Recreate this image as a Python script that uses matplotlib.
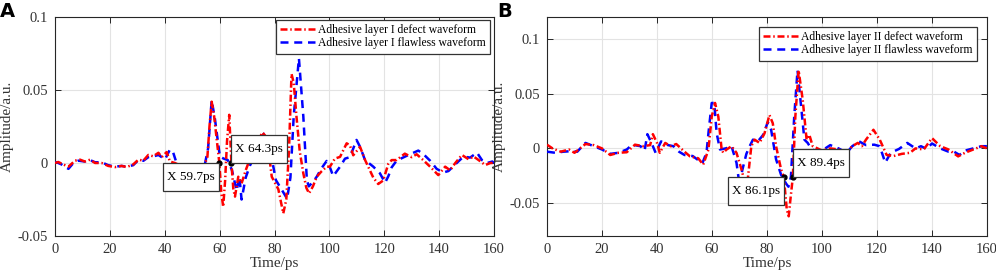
import matplotlib
matplotlib.use("Agg")
import matplotlib.pyplot as plt

# ---------------- Data ----------------
# Panel A - defect (red)
a_def_t = [0, 1.2, 3, 4.9, 7.3, 9.1, 10.9, 12.8, 14.6, 17,
           19.4, 21.9, 24.3, 26.1, 28.5, 30.4, 32.2, 34, 35.8, 37.7,
           38.9, 40.7, 41.9, 43.7, 46, 50, 54, 55.5, 56.3, 57.1,
           58, 59.9, 60.6, 61.3, 62, 62.7, 63.5, 64.3, 65.0, 65.6,
           66.8, 68.0, 69.5, 70.5, 72, 74, 75.5, 76.5, 78, 79,
           81.4, 83.2, 84.3, 85.3, 86.2, 87, 88, 89.2, 90.5, 91.6,
           92.6, 94, 95.4, 97, 99, 100.2, 102, 103.9, 106.3, 107.5,
           108.7, 111.2, 113, 116, 117.8, 119.6, 121.5, 122.7, 124.5, 127.5,
           130, 131.8, 134.2, 136.7, 139.7, 142.2, 144, 145.9, 148.3, 150.7,
           152.6, 154.4, 156.8, 158.7, 160]
a_def_v = [0, 0.0007, -0.001, -0.0025, 0.0016, 0.0023, 0.001, 0.0023, 0, 0,
           -0.002, -0.0028, -0.002, -0.0028, -0.001, 0.0023, 0.0016, 0.0055, 0.0046, 0.007,
           0.004, 0.0075, 0.001, 0, -0.002, -0.002, -0.002, 0.003, 0.025, 0.042,
           0.032, 0, -0.02, -0.030, -0.012, 0.015, 0.033, 0, -0.018, -0.023,
           -0.0094, -0.014, -0.005, 0.0, 0.006, 0.014, 0.021, 0.019, 0.006, -0.0094,
           -0.018, -0.0345, -0.025, 0.01, 0.061, 0.055, 0.032, 0.008, -0.007, -0.017,
           -0.0208, -0.016, -0.0094, -0.006, -0.0025, -0.0025, 0.003, 0.0042, 0.0135, 0.012,
           0.0053, 0.011, 0.0021, -0.01, -0.0144, -0.012, -0.0005, 0.002, 0.002, 0.0064,
           0.004, 0.006, 0.002, -0.0025, -0.0083, -0.0025, -0.005, 0.0, 0.0055, 0.0026,
           0.0044, 0.002, -0.0014, 0, 0]
# Panel A - flawless (blue)
a_fl_t = [0, 1.2, 2.4, 4.9, 6.7, 8.5, 10.9, 12.8, 14.6, 17,
          19.4, 21.9, 24.3, 26.1, 28.5, 30.4, 32.2, 34, 35.8, 37.7,
          40.1, 41.9, 43.1, 44.3, 47, 51, 54.5, 55.8, 57.1, 58.3,
          60.1, 61.5, 63, 64.5, 66.2, 67.2, 68.0, 69.5, 71, 73,
          74.5, 76.1, 77.5, 80.5, 83.5, 84.6, 85.8, 87.0, 88.9, 90.5,
          91.8, 92.5, 94, 95.4, 97, 99, 100.2, 101.4, 103.9, 105.7,
          107.5, 109.9, 111.2, 113, 116, 118.4, 120.3, 121.5, 122.7, 124.5,
          128.8, 132.4, 134.2, 136.7, 139.1, 141.5, 143.4, 145.9, 148.9, 151.3,
          153.8, 155.6, 157.5, 159.4, 160]
a_fl_v = [0.0007, 0.0, -0.001, -0.004, 0, 0.0016, 0.001, 0.002, 0.0005, 0.0005,
          -0.0015, -0.0025, -0.002, -0.0025, -0.0015, 0.002, 0.0015, 0.004, 0.0045, 0.0055,
          0.0025, 0.0093, 0.007, 0, -0.002, -0.002, -0.002, 0.01, 0.043, 0.03,
          0.0043, 0.003, 0.002, -0.005, -0.019, -0.0094, -0.025, -0.01, -0.002, 0.006,
          0.013, 0.02, 0.018, -0.0117, -0.021, -0.0245, -0.01, 0.032, 0.0717, 0.032,
          -0.0117, -0.016, -0.013, -0.0094, -0.004, 0.0014, -0.003, -0.009, -0.0025, 0.003,
          0.004, 0.0158, 0.011, 0.002, -0.0025, -0.007, -0.0135, -0.009, -0.003, 0.0016,
          0.0055, 0.0085, 0.0062, 0.0016, -0.004, -0.0065, -0.0055, -0.0009, 0.0044, 0.0037,
          0.0071, 0.002, 0.0, 0.001, 0.0]

# Panel B - defect (red)
b_def_t = [0, 2, 5, 8, 10, 14, 17, 20, 23, 26,
           29, 32, 35, 37.5, 38.5, 40, 41, 43, 45, 47,
           50, 52, 55, 56.8, 58.7, 59.9, 61.1, 62.3, 63.5, 64.1,
           65.3, 67.1, 68.9, 70.7, 72.3, 73.1, 74.3, 75.5, 77.3, 79.1,
           80.9, 82.1, 83.3, 85.1, 86.1, 87.2, 87.9, 88.5, 89.4, 90.3,
           91.5, 93, 94.4, 95.4, 96.6, 100, 103, 106, 109, 111,
           113, 114.5, 116, 118.7, 121, 123.5, 126, 129, 132, 134,
           137, 140, 143, 146, 149.5, 152, 155, 158, 160]
b_def_v = [0.0034, 0.0, -0.003, -0.001, -0.004, 0.004, 0.003, 0.0, -0.006, -0.004,
           -0.0035, 0.0034, 0.002, 0.003, 0.013, 0.005, -0.004, 0.005, 0.002, 0.004,
           -0.003, -0.0073, -0.009, -0.0149, -0.0012, 0.029, 0.0415, 0.029, -0.001, -0.004,
           -0.001, 0.002, -0.004, -0.019, -0.035, -0.026, 0.0021, 0.008, 0.005, 0.0138,
           0.0305, 0.023, 0.002, -0.019, -0.026, -0.056, -0.062, -0.047, -0.026, 0.029,
           0.0713, 0.044, 0.008, 0.0124, 0.0021, -0.002, 0.0, -0.001, -0.003, 0.002,
           0.005, 0.002, 0.008, 0.017, 0.008, -0.006, -0.007, -0.005, -0.004, 0.0,
           -0.001, 0.0094, 0.002, -0.001, -0.0073, -0.004, -0.001, 0.002, 0.0]
# Panel B - flawless (blue)
b_fl_t = [0, 3, 6, 9, 11, 14, 17, 20, 23, 26,
          29, 31, 34, 35.5, 36.5, 38, 39.5, 41.5, 44, 46,
          48, 50, 53, 56.5, 58, 58.7, 59.9, 60.8, 61.7, 62.9,
          65, 67.1, 68.9, 70.1, 71, 72.5, 73.7, 74.9, 76.7, 78.5,
          80.3, 81.5, 83.3, 85.1, 86.9, 87.8, 88.7, 89.9, 91.1, 92.3,
          93.6, 94.8, 96, 98, 100, 103, 106, 109, 111, 113.5,
          116, 119, 121, 123, 125, 128, 131, 134, 136, 138,
          140, 143, 146, 148, 150, 152, 155, 158, 160]
b_fl_v = [-0.003, -0.004, -0.003, -0.0025, -0.003, 0.005, 0.002, -0.001, -0.005, -0.004,
          -0.001, 0.0034, 0.002, -0.002, 0.013, 0.005, -0.004, 0.0064, 0.003, 0.002,
          -0.003, -0.006, -0.007, -0.0135, -0.004, 0.0138, 0.0415, 0.0415, 0.0138, -0.001,
          0.0, 0.002, -0.013, -0.035, -0.02, -0.005, 0.002, 0.008, 0.0065, 0.012,
          0.024, 0.017, -0.01, -0.024, -0.032, -0.035, -0.026, 0.029, 0.0713, 0.041,
          0.008, 0.005, 0.0, -0.003, -0.002, 0.003, 0.0, -0.004, 0.002, 0.0064,
          0.003, 0.0034, 0.002, -0.013, -0.004, -0.0005, 0.005, 0.0, 0.002, -0.0005,
          0.0045, 0.0, -0.003, -0.003, -0.006, -0.002, 0.0, 0.002, 0.002]

xticks = [0, 20, 40, 60, 80, 100, 120, 140, 160]
yticks = [-0.05, 0, 0.05, 0.1]
ytick_labels = ["-0.05", "0", "0.05", "0.1"]

legend_a = ["Adhesive layer I defect waveform", "Adhesive layer I flawless waveform"]
legend_b = ["Adhesive layer II defect waveform", "Adhesive layer II flawless waveform"]

tips_a = [(59.7, 0.0, "X 59.7ps", "left"), (64.3, 0.0, "X 64.3ps", "right")]
tips_b = [(86.1, -0.026, "X 86.1ps", "left"), (89.4, -0.026, "X 89.4ps", "right")]

# ---------------- Plot ----------------
plt.rcParams['font.family'] = ['Liberation Serif', 'DejaVu Serif']
W, H = 996, 274
fig = plt.figure(figsize=(W / 100, H / 100), dpi=100)

edge = (0.15, 0.15, 0.15)
grid_c = (0.89, 0.89, 0.89)
txt_c = (0.2, 0.2, 0.2)
LW = 1.8
RED_DASH = (2.8, 1.1, 0.6, 1.1)
BLUE_DASH = (3.2, 2.3)


def setup(ax, ylim):
    ax.set_xlim(0, 160)
    ax.set_ylim(*ylim)
    ax.set_xticks(xticks)
    ax.set_yticks(yticks)
    ax.set_yticklabels(ytick_labels)
    ax.grid(True, color=grid_c, linewidth=0.8)
    ax.set_axisbelow(True)
    ax.tick_params(direction='in', top=True, right=True, length=4, width=0.7,
                   labelsize=10.5, colors=edge, labelcolor=txt_c, pad=5)
    for s in ax.spines.values():
        s.set_color(edge)
        s.set_linewidth(0.8)
    ax.set_xlabel("Time/ps", fontsize=11, color=txt_c, labelpad=1)
    ax.set_ylabel("Amplitude/a.u.", fontsize=11, color=txt_c, labelpad=3)


def tips(ax, items):
    fs = 9.5
    pad = 0.3
    asp = 2.0
    dx = pad * fs
    dy = pad * fs * asp
    for x, y, txt, side in items:
        ax.plot([x], [y], 'o', color='black', markersize=3.5, zorder=6)
        bb = dict(boxstyle='square,pad=%.2f' % pad, mutation_aspect=asp,
                  fc='white', ec=txt_c, lw=0.9)
        if side == "left":
            ax.annotate(txt, (x, y), xytext=(-dx, -dy), textcoords='offset points',
                        ha='right', va='top', fontsize=fs, zorder=7, bbox=bb)
        else:
            ax.annotate(txt, (x, y), xytext=(dx, dy), textcoords='offset points',
                        ha='left', va='bottom', fontsize=fs, zorder=7, bbox=bb)


def legend(ax, anchor):
    leg = ax.legend(loc='upper right', bbox_to_anchor=anchor, fontsize=8.4, frameon=True,
                    fancybox=False, edgecolor=txt_c, framealpha=1, handlelength=3.0,
                    handletextpad=0.3, labelspacing=0.12, borderpad=0.35, borderaxespad=0)
    leg.get_frame().set_linewidth(0.9)
    leg.set_zorder(8)


axA = fig.add_axes([55 / W, (H - 236) / H, (494 - 55) / W, (236 - 17) / H])
axA.plot(a_def_t, a_def_v, color='red', lw=LW, label=legend_a[0], zorder=4, dashes=RED_DASH)
axA.plot(a_fl_t, a_fl_v, color='blue', lw=LW, label=legend_a[1], zorder=3, dashes=BLUE_DASH)
setup(axA, (-0.05, 0.1))
tips(axA, tips_a)
legend(axA, ((490 - 55) / (494 - 55), 1 - 3 / 219))

axB = fig.add_axes([547 / W, (H - 236) / H, (987 - 547) / W, (236 - 17) / H])
axB.plot(b_def_t, b_def_v, color='red', lw=LW, label=legend_b[0], zorder=4, dashes=RED_DASH)
axB.plot(b_fl_t, b_fl_v, color='blue', lw=LW, label=legend_b[1], zorder=3, dashes=BLUE_DASH)
setup(axB, (-0.08, 0.12))
tips(axB, tips_b)
legend(axB, ((977 - 547) / (987 - 547), 1 - 10 / 219))

fig.text(0 / W, 1 - 2 / H, "A", fontsize=14, fontweight='bold', family='DejaVu Sans', va='top', ha='left')
fig.text(497 / W, 1 - 2 / H, "B", fontsize=14, fontweight='bold', family='DejaVu Sans', va='top', ha='left')

fig.savefig("out.png", dpi=100)
